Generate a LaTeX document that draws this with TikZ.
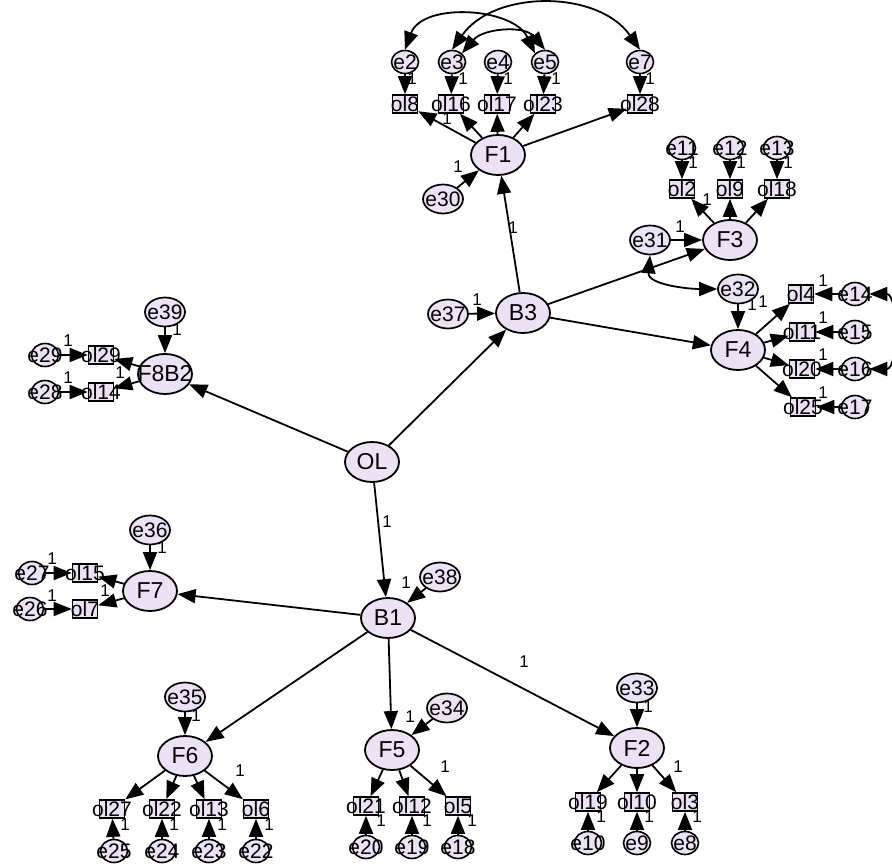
\documentclass[tikz,border=0pt]{standalone}
\usepackage{fontspec}
\setmainfont{Liberation Sans}
\usetikzlibrary{shapes.geometric,arrows.meta}
\definecolor{lav}{RGB}{236,225,245}
\begin{document}
\begin{tikzpicture}[x=1pt,y=-1pt,
  lblA/.style={font=\fontsize{23}{23}\selectfont, inner sep=0pt},
  lblB/.style={font=\fontsize{21}{21}\selectfont, inner sep=0pt},
  lat/.style={ellipse, draw, line width=1.8pt, fill=lav, minimum width=54pt, minimum height=40pt, inner sep=0pt, label={[lblA]center:#1}},
  dist/.style={ellipse, draw, line width=1.7pt, fill=lav, minimum width=40pt, minimum height=29pt, inner sep=0pt, label={[lblB]center:#1}},
  uerr/.style={ellipse, draw, line width=1.6pt, fill=lav, minimum width=27pt, minimum height=23pt, inner sep=0pt, label={[lblB]center:#1}},
  obs/.style={rectangle, draw, line width=1.6pt, fill=lav, minimum width=25pt, minimum height=18pt, inner sep=0pt, label={[lblB]center:#1}},
  pth/.style={-{Triangle[length=18pt,width=14pt]}, line width=1.8pt},
  cov/.style={{Triangle[length=18pt,width=14pt]}-{Triangle[length=18pt,width=14pt]}, line width=1.8pt},
  one/.style={font=\fontsize{17}{17}\selectfont, inner sep=0pt}]
\useasboundingbox (0,0) rectangle (892,864);

% ---------- core ----------
\node[lat=OL] (OL) at (372,462) {};
\node[lat=B3] (B3) at (523,313) {};
\node[lat=B1] (B1) at (388,618) {};
\node[dist=e37] (e37) at (448,314) {};
\node[dist=e38] (e38) at (440,577) {};

% ---------- F1 ----------
\node[lat=F1] (F1) at (498,155) {};
\node[dist=e30] (e30) at (443,199) {};
\node[obs=ol8]  (ol8)  at (405,104) {};
\node[obs=ol16] (ol16) at (451,104) {};
\node[obs=ol17] (ol17) at (497,104) {};
\node[obs=ol23] (ol23) at (543,104) {};
\node[obs=ol28] (ol28) at (640,104) {};
\node[uerr=e2] (e2) at (405,62) {};
\node[uerr=e3] (e3) at (452,62) {};
\node[uerr=e4] (e4) at (498,62) {};
\node[uerr=e5] (e5) at (545,62) {};
\node[uerr=e7] (e7) at (640,62) {};

% ---------- F3 ----------
\node[lat=F3] (F3) at (730,240) {};
\node[dist=e31] (e31) at (650,240) {};
\node[obs=ol2]  (ol2)  at (682,189) {};
\node[obs=ol9]  (ol9)  at (730,189) {};
\node[obs=ol18] (ol18) at (777,189) {};
\node[uerr=e11] (e11) at (682,148) {};
\node[uerr=e12] (e12) at (730,148) {};
\node[uerr=e13] (e13) at (777,148) {};

% ---------- F4 ----------
\node[lat=F4] (F4) at (738,350) {};
\node[dist=e32] (e32) at (738,289) {};
\node[obs=ol4]  (ol4)  at (801,294) {};
\node[obs=ol11] (ol11) at (802,332) {};
\node[obs=ol20] (ol20) at (802,369) {};
\node[obs=ol25] (ol25) at (803,407) {};
\node[uerr=e14] (e14) at (855,294) {};
\node[uerr=e15] (e15) at (855,332) {};
\node[uerr=e16] (e16) at (855,369) {};
\node[uerr=e17] (e17) at (855,407) {};

% ---------- F8B2 ----------
\node[lat=F8B2] (F8B2) at (165,374) {};
\node[dist=e39] (e39) at (165,312) {};
\node[obs=ol29] (ol29) at (101,355) {};
\node[obs=ol14] (ol14) at (101,392) {};
\node[uerr=e29] (e29) at (45,355) {};
\node[uerr=e28] (e28) at (45,392) {};

% ---------- F7 ----------
\node[lat=F7] (F7) at (150,591) {};
\node[dist=e36] (e36) at (150,530) {};
\node[obs=ol15] (ol15) at (85,573) {};
\node[obs=ol7]  (ol7)  at (85,609) {};
\node[uerr=e27] (e27) at (32,573) {};
\node[uerr=e26] (e26) at (30,609) {};

% ---------- F6 ----------
\node[lat=F6] (F6) at (185,756) {};
\node[dist=e35] (e35) at (185,697) {};
\node[obs=ol27] (ol27) at (112,809) {};
\node[obs=ol22] (ol22) at (162,809) {};
\node[obs=ol13] (ol13) at (209,809) {};
\node[obs=ol6]  (ol6)  at (256,809) {};
\node[uerr=e25] (e25) at (114,851) {};
\node[uerr=e24] (e24) at (162,851) {};
\node[uerr=e23] (e23) at (209,851) {};
\node[uerr=e22] (e22) at (256,851) {};

% ---------- F5 ----------
\node[lat=F5] (F5) at (392,750) {};
\node[dist=e34] (e34) at (447,708) {};
\node[obs=ol21] (ol21) at (366,806) {};
\node[obs=ol12] (ol12) at (412,806) {};
\node[obs=ol5]  (ol5)  at (458,806) {};
\node[uerr=e20] (e20) at (366,847) {};
\node[uerr=e19] (e19) at (412,847) {};
\node[uerr=e18] (e18) at (458,847) {};

% ---------- F2 ----------
\node[lat=F2] (F2) at (637,748) {};
\node[dist=e33] (e33) at (637,688) {};
\node[obs=ol19] (ol19) at (588,802) {};
\node[obs=ol10] (ol10) at (637,802) {};
\node[obs=ol3]  (ol3)  at (685,802) {};
\node[uerr=e10] (e10) at (588,843) {};
\node[uerr=e9]  (e9)  at (637,843) {};
\node[uerr=e8]  (e8)  at (685,843) {};

% ---------- structural paths ----------
\draw[pth] (OL) -- (B3);
\draw[pth] (OL) -- (B1);
\draw[pth] (OL) -- (F8B2);
\draw[pth] (e37) -- (B3);
\draw[pth] (e38) -- (B1);
\draw[pth] (B3) -- (F1);
\draw[pth] (B3) -- (F3);
\draw[pth] (B3) -- (F4);
\draw[pth] (B1) -- (F7);
\draw[pth] (B1) -- (F6);
\draw[pth] (B1) -- (F5);
\draw[pth] (B1) -- (F2);
\draw[pth] (e30) -- (F1);
\draw[pth] (e31) -- (F3);
\draw[pth] (e32) -- (F4);
\draw[pth] (e39) -- (F8B2);
\draw[pth] (e36) -- (F7);
\draw[pth] (e35) -- (F6);
\draw[pth] (e34) -- (F5);
\draw[pth] (e33) -- (F2);

% ---------- measurement paths ----------
\foreach \f/\o/\e in {F1/ol8/e2, F1/ol16/e3, F1/ol17/e4, F1/ol23/e5, F1/ol28/e7,
  F3/ol2/e11, F3/ol9/e12, F3/ol18/e13,
  F4/ol4/e14, F4/ol11/e15, F4/ol20/e16, F4/ol25/e17,
  F8B2/ol29/e29, F8B2/ol14/e28, F7/ol15/e27, F7/ol7/e26,
  F6/ol27/e25, F6/ol22/e24, F6/ol13/e23, F6/ol6/e22,
  F5/ol21/e20, F5/ol12/e19, F5/ol5/e18,
  F2/ol19/e10, F2/ol10/e9, F2/ol3/e8}{
  \draw[pth] (\f) -- (\o);
  \draw[pth] (\e) -- (\o);
}

% ---------- covariances ----------
\draw[cov] (e2.north) to[out=70,in=115] (e5.north west);
\draw[cov] (e3.north) to[out=55,in=125] (e7.north);
\draw[cov] (e3.north east) to[out=50,in=130] (e5.north);
\draw[cov] (e31.south) to[out=-95,in=180] (e32.west);
\draw[cov] (e14.east) to[out=0,in=0,looseness=1.0] (e16.east);

% ---------- fixed-parameter labels ----------
\node[one] (n1) at (412,79) {1};
\node[one] (n2) at (463,79) {1};
\node[one] (n3) at (508,79) {1};
\node[one] (n4) at (556,79) {1};
\node[one] (n5) at (650,79) {1};
\node[one] (n6) at (447,119) {1};
\node[one] (n7) at (458,167) {1};
\node[one] (n8) at (513,228) {1};
\node[one] (n9) at (693,163) {1};
\node[one] (n10) at (741,163) {1};
\node[one] (n11) at (788,163) {1};
\node[one] (n12) at (707,200) {1};
\node[one] (n13) at (680,227) {1};
\node[one] (n14) at (752,305) {1};
\node[one] (n15) at (763,302) {1};
\node[one] (n16) at (823,281) {1};
\node[one] (n17) at (823,318) {1};
\node[one] (n18) at (823,355) {1};
\node[one] (n19) at (823,393) {1};
\node[one] (n20) at (477,300) {1};
\node[one] (n21) at (177,330) {1};
\node[one] (n22) at (68,341) {1};
\node[one] (n23) at (68,378) {1};
\node[one] (n24) at (120,373) {1};
\node[one] (n25) at (162,548) {1};
\node[one] (n26) at (52,559) {1};
\node[one] (n27) at (52,596) {1};
\node[one] (n28) at (105,591) {1};
\node[one] (n29) at (387,522) {1};
\node[one] (n30) at (406,583) {1};
\node[one] (n31) at (524,662) {1};
\node[one] (n32) at (196,716) {1};
\node[one] (n33) at (240,771) {1};
\node[one] (n34) at (410,717) {1};
\node[one] (n35) at (445,767) {1};
\node[one] (n36) at (648,707) {1};
\node[one] (n37) at (678,767) {1};
\node[one] (n38) at (125,825) {1};
\node[one] (n39) at (174,825) {1};
\node[one] (n40) at (222,825) {1};
\node[one] (n41) at (269,825) {1};
\node[one] (n42) at (381,821) {1};
\node[one] (n43) at (427,821) {1};
\node[one] (n44) at (472,821) {1};
\node[one] (n45) at (601,817) {1};
\node[one] (n46) at (649,817) {1};
\node[one] (n47) at (697,817) {1};
\end{tikzpicture}
\end{document}
